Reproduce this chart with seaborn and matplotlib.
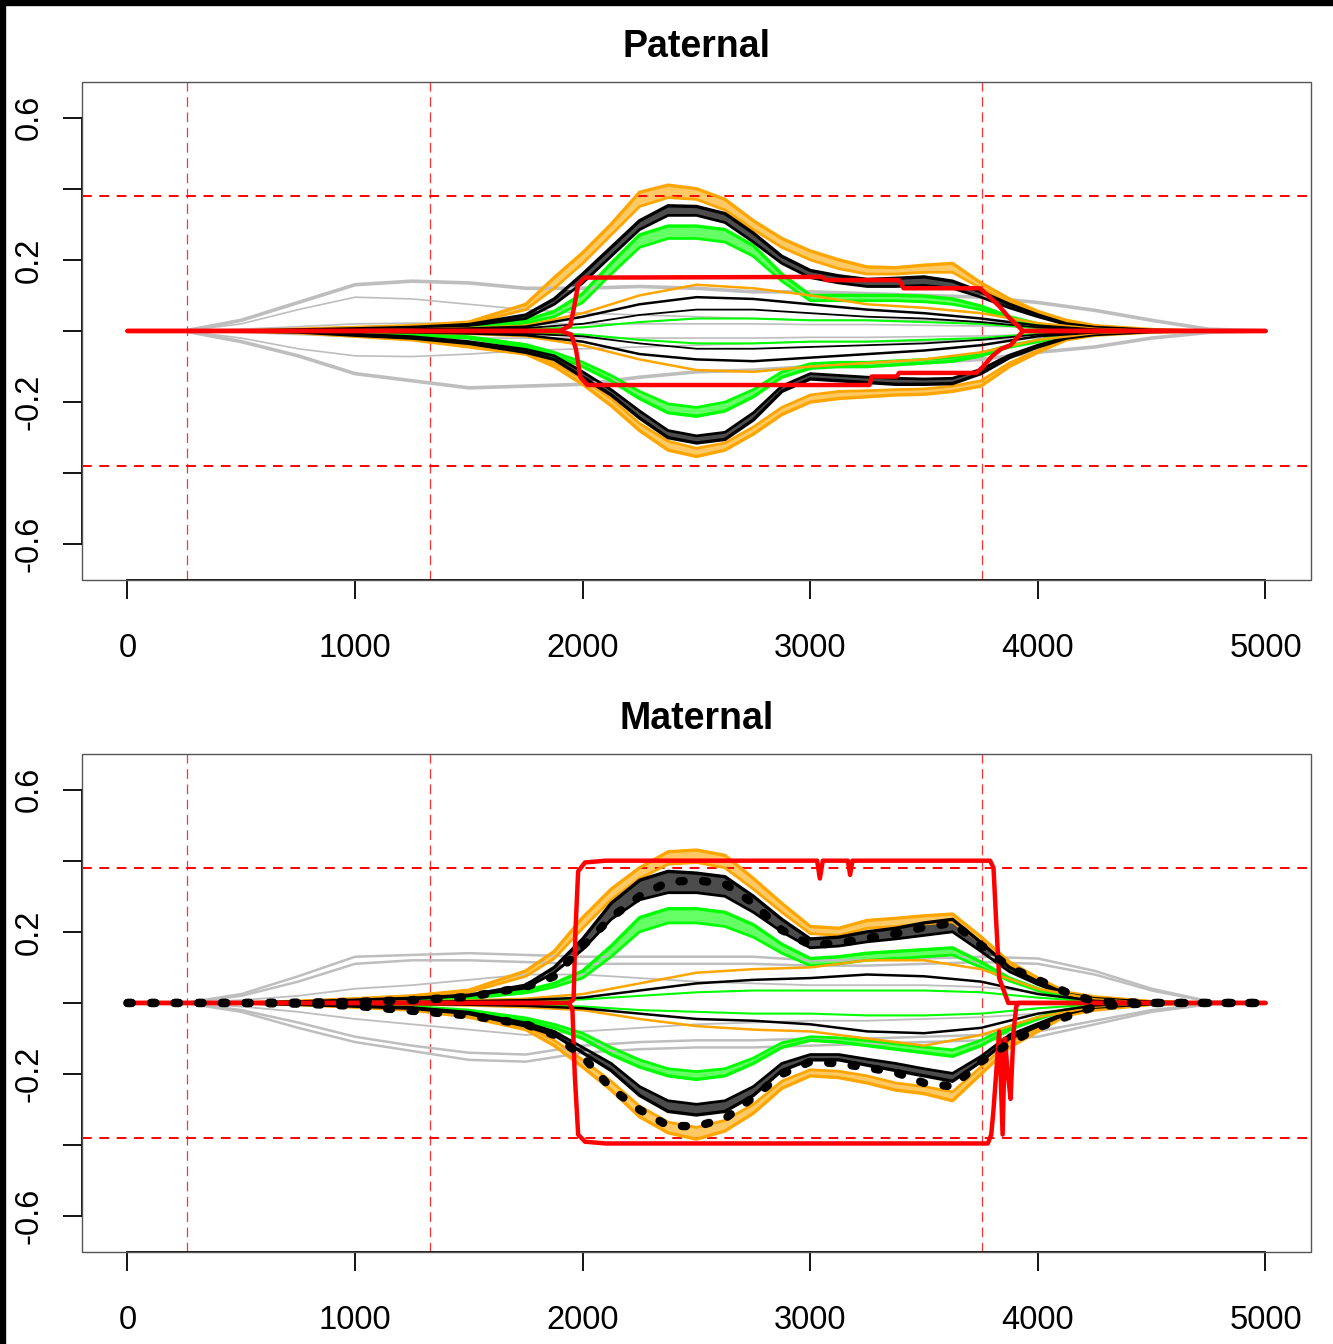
import numpy as np
import seaborn as sns
import matplotlib.pyplot as plt
from matplotlib.patches import Rectangle

sns.set_style('white')
plt.rcParams['font.family'] = ['Liberation Sans', 'DejaVu Sans']
plt.rcParams['lines.scale_dashes'] = False
for k in ('text.color', 'xtick.color', 'ytick.color', 'axes.labelcolor'):
    plt.rcParams[k] = 'black'

# coarse x grid (gray and inner curves)
X = [0, 250, 500, 750, 1000, 1250, 1500, 1750, 2000, 2250, 2500,
     2750, 3000, 3250, 3500, 3750, 4000, 4250, 4500, 4750, 5000]
# finer x grid for the outer bundles
XE = [0, 250, 500, 750, 1000, 1250, 1500,
      1750, 1875, 2000, 2125, 2250, 2375, 2500, 2625, 2750, 2875, 3000,
      3125, 3250, 3375, 3500, 3625, 3750, 3875, 4000, 4125, 4250,
      4500, 4750, 5000]

# ---- Paternal ----
pat_gray_up1 = [0, 0, 0.03, 0.08, 0.13, 0.14, 0.135, 0.12, 0.12, 0.125, 0.12, 0.11, 0.11, 0.105, 0.1, 0.095, 0.08, 0.058, 0.03, 0.005, 0]
pat_gray_up2 = [0, 0, 0.02, 0.06, 0.095, 0.09, 0.075, 0.06, 0.05, 0.045, 0.04, 0.035, 0.03, 0.03, 0.03, 0.025, 0.02, 0.01, 0.004, 0, 0]
pat_gray_up3 = [0, 0, 0.005, 0.012, 0.02, 0.022, 0.022, 0.02, 0.02, 0.02, 0.02, 0.02, 0.018, 0.018, 0.016, 0.014, 0.01, 0.005, 0.002, 0, 0]
pat_gray_lo1 = [0, 0, -0.03, -0.07, -0.12, -0.14, -0.16, -0.155, -0.15, -0.13, -0.115, -0.11, -0.1, -0.1, -0.09, -0.08, -0.06, -0.045, -0.02, -0.004, 0]
pat_gray_lo2 = [0, 0, -0.02, -0.05, -0.07, -0.072, -0.065, -0.055, -0.05, -0.045, -0.04, -0.035, -0.03, -0.03, -0.03, -0.025, -0.02, -0.01, -0.004, 0, 0]
pat_gray_lo3 = [0, 0, -0.004, -0.01, -0.016, -0.02, -0.02, -0.02, -0.02, -0.02, -0.02, -0.02, -0.018, -0.018, -0.016, -0.014, -0.01, -0.005, -0.002, 0, 0]

pat_orange_up1 = [0, 0, 0, 0.005, 0.01, 0.015, 0.025, 0.075, 0.15, 0.22, 0.3, 0.39, 0.41, 0.40, 0.37, 0.31, 0.26, 0.225, 0.2, 0.18, 0.178, 0.185, 0.19, 0.135, 0.09, 0.055, 0.03, 0.015, 0.004, 0, 0]
pat_orange_up2 = [0, 0, 0, 0.004, 0.008, 0.012, 0.02, 0.06, 0.12, 0.19, 0.27, 0.35, 0.375, 0.37, 0.34, 0.285, 0.235, 0.2, 0.175, 0.16, 0.16, 0.165, 0.165, 0.12, 0.08, 0.048, 0.025, 0.012, 0.003, 0, 0]
pat_black_up1 = [0, 0, 0, 0.003, 0.006, 0.01, 0.018, 0.045, 0.09, 0.16, 0.235, 0.31, 0.352, 0.35, 0.33, 0.275, 0.21, 0.17, 0.155, 0.145, 0.148, 0.152, 0.14, 0.11, 0.075, 0.045, 0.02, 0.01, 0.002, 0, 0]
pat_black_up2 = [0, 0, 0, 0.002, 0.005, 0.008, 0.015, 0.035, 0.075, 0.135, 0.21, 0.285, 0.325, 0.325, 0.305, 0.25, 0.19, 0.15, 0.135, 0.125, 0.125, 0.128, 0.12, 0.095, 0.065, 0.04, 0.018, 0.008, 0.001, 0, 0]
pat_green_up1 = [0, 0, 0, 0.002, 0.004, 0.007, 0.012, 0.03, 0.055, 0.105, 0.19, 0.27, 0.295, 0.295, 0.285, 0.24, 0.16, 0.1, 0.1, 0.1, 0.1, 0.098, 0.09, 0.07, 0.04, 0.02, 0.01, 0.005, 0, 0, 0]
pat_green_up2 = [0, 0, 0, 0.001, 0.003, 0.005, 0.01, 0.022, 0.04, 0.08, 0.16, 0.235, 0.26, 0.26, 0.25, 0.21, 0.14, 0.085, 0.085, 0.085, 0.085, 0.082, 0.075, 0.06, 0.035, 0.016, 0.008, 0.004, 0, 0, 0]
pat_orange_lo1 = [0, 0, 0, -0.005, -0.015, -0.025, -0.045, -0.065, -0.1, -0.15, -0.21, -0.28, -0.335, -0.353, -0.335, -0.29, -0.235, -0.2, -0.19, -0.185, -0.18, -0.178, -0.17, -0.155, -0.1, -0.06, -0.025, -0.012, -0.003, 0, 0]
pat_orange_lo2 = [0, 0, 0, -0.004, -0.012, -0.02, -0.038, -0.058, -0.09, -0.135, -0.19, -0.26, -0.31, -0.33, -0.315, -0.27, -0.215, -0.18, -0.17, -0.168, -0.165, -0.163, -0.155, -0.14, -0.09, -0.055, -0.022, -0.01, -0.002, 0, 0]
pat_black_lo1 = [0, 0, 0, -0.003, -0.012, -0.02, -0.035, -0.06, -0.08, -0.13, -0.18, -0.245, -0.3, -0.315, -0.305, -0.25, -0.17, -0.135, -0.14, -0.145, -0.15, -0.15, -0.148, -0.12, -0.075, -0.045, -0.02, -0.01, -0.002, 0, 0]
pat_black_lo2 = [0, 0, 0, -0.002, -0.009, -0.016, -0.03, -0.052, -0.07, -0.115, -0.165, -0.225, -0.28, -0.295, -0.285, -0.23, -0.155, -0.12, -0.125, -0.13, -0.133, -0.135, -0.133, -0.108, -0.068, -0.04, -0.018, -0.008, -0.001, 0, 0]
pat_green_lo1 = [0, 0, 0, -0.002, -0.006, -0.01, -0.02, -0.045, -0.07, -0.1, -0.14, -0.19, -0.23, -0.24, -0.225, -0.185, -0.13, -0.105, -0.1, -0.1, -0.095, -0.09, -0.085, -0.07, -0.045, -0.03, -0.012, -0.006, 0, 0, 0]
pat_green_lo2 = [0, 0, 0, -0.001, -0.004, -0.008, -0.016, -0.038, -0.06, -0.088, -0.125, -0.17, -0.205, -0.215, -0.2, -0.165, -0.115, -0.092, -0.088, -0.088, -0.084, -0.08, -0.075, -0.062, -0.04, -0.026, -0.01, -0.005, 0, 0, 0]

pat_orange_in_up = [0, 0, 0, 0, 0.002, 0.004, 0.008, 0.015, 0.05, 0.1, 0.13, 0.12, 0.1, 0.075, 0.065, 0.05, 0.022, 0.006, 0, 0, 0]
pat_black_in_up1 = [0, 0, 0, 0, 0.002, 0.004, 0.007, 0.012, 0.04, 0.075, 0.095, 0.09, 0.075, 0.06, 0.05, 0.035, 0.015, 0.004, 0, 0, 0]
pat_black_in_up2 = [0, 0, 0, 0, 0.001, 0.002, 0.004, 0.008, 0.02, 0.045, 0.06, 0.06, 0.05, 0.04, 0.035, 0.025, 0.01, 0.002, 0, 0, 0]
pat_green_in_up = [0, 0, 0, 0, 0.001, 0.002, 0.003, 0.005, 0.01, 0.025, 0.035, 0.035, 0.03, 0.03, 0.025, 0.02, 0.008, 0.002, 0, 0, 0]
pat_orange_in_lo = [0, 0, 0, 0, -0.002, -0.004, -0.008, -0.015, -0.04, -0.08, -0.11, -0.115, -0.1, -0.09, -0.08, -0.06, -0.025, -0.006, 0, 0, 0]
pat_black_in_lo1 = [0, 0, 0, 0, -0.002, -0.004, -0.007, -0.012, -0.03, -0.065, -0.08, -0.085, -0.075, -0.065, -0.055, -0.04, -0.015, -0.004, 0, 0, 0]
pat_black_in_lo2 = [0, 0, 0, 0, -0.001, -0.002, -0.004, -0.008, -0.015, -0.035, -0.05, -0.05, -0.045, -0.04, -0.035, -0.025, -0.01, -0.002, 0, 0, 0]
pat_green_in_lo = [0, 0, 0, 0, -0.001, -0.002, -0.003, -0.005, -0.01, -0.025, -0.035, -0.035, -0.03, -0.03, -0.025, -0.02, -0.008, -0.002, 0, 0, 0]

pat_red_up_x = [0, 1900, 1945, 1960, 1980, 2010, 3050, 3070, 3390, 3410, 3745, 3780, 3830, 3870, 3935, 5000]
pat_red_up_y = [0, 0, 0.015, 0.06, 0.13, 0.15, 0.152, 0.143, 0.143, 0.12, 0.12, 0.1, 0.07, 0.04, 0, 0]
pat_red_lo_x = [0, 1900, 1950, 1970, 1990, 2020, 3260, 3270, 3380, 3390, 3730, 3760, 3800, 3840, 3880, 3935, 5000]
pat_red_lo_y = [0, 0, -0.01, -0.05, -0.13, -0.152, -0.152, -0.128, -0.128, -0.118, -0.118, -0.1, -0.07, -0.05, -0.04, 0, 0]

# ---- Maternal ----
mat_gray_up1 = [0, 0, 0.025, 0.075, 0.13, 0.135, 0.14, 0.135, 0.13, 0.13, 0.13, 0.13, 0.12, 0.12, 0.125, 0.13, 0.125, 0.09, 0.04, 0.005, 0]
mat_gray_up2 = [0, 0, 0.02, 0.06, 0.11, 0.12, 0.12, 0.115, 0.11, 0.11, 0.11, 0.11, 0.105, 0.105, 0.11, 0.115, 0.11, 0.08, 0.035, 0.004, 0]
mat_gray_up3 = [0, 0, 0.008, 0.02, 0.04, 0.05, 0.065, 0.08, 0.08, 0.07, 0.06, 0.055, 0.05, 0.05, 0.05, 0.045, 0.03, 0.015, 0.005, 0, 0]
mat_gray_lo1 = [0, 0, -0.025, -0.07, -0.11, -0.135, -0.16, -0.165, -0.14, -0.13, -0.125, -0.125, -0.12, -0.115, -0.11, -0.105, -0.095, -0.06, -0.025, -0.004, 0]
mat_gray_lo2 = [0, 0, -0.02, -0.055, -0.095, -0.12, -0.14, -0.145, -0.12, -0.11, -0.105, -0.105, -0.1, -0.1, -0.095, -0.09, -0.08, -0.05, -0.02, -0.003, 0]
mat_gray_lo3 = [0, 0, -0.01, -0.025, -0.045, -0.06, -0.075, -0.09, -0.08, -0.07, -0.06, -0.055, -0.05, -0.05, -0.045, -0.04, -0.03, -0.015, -0.005, 0, 0]

mat_orange_up1 = [0, 0, 0, 0.005, 0.012, 0.02, 0.036, 0.09, 0.145, 0.24, 0.32, 0.38, 0.425, 0.43, 0.415, 0.35, 0.28, 0.215, 0.21, 0.232, 0.238, 0.245, 0.25, 0.186, 0.115, 0.07, 0.03, 0.017, 0.004, 0, 0]
mat_orange_up2 = [0, 0, 0, 0.004, 0.01, 0.016, 0.03, 0.075, 0.125, 0.21, 0.29, 0.35, 0.39, 0.395, 0.38, 0.32, 0.255, 0.195, 0.19, 0.21, 0.215, 0.222, 0.228, 0.17, 0.105, 0.062, 0.027, 0.014, 0.003, 0, 0]
mat_black_up1 = [0, 0, 0, 0.003, 0.008, 0.013, 0.022, 0.05, 0.1, 0.18, 0.28, 0.345, 0.37, 0.365, 0.355, 0.3, 0.235, 0.18, 0.185, 0.2, 0.21, 0.225, 0.235, 0.17, 0.1, 0.06, 0.025, 0.012, 0.002, 0, 0]
mat_black_up2 = [0, 0, 0, 0.003, 0.007, 0.012, 0.02, 0.042, 0.085, 0.15, 0.235, 0.29, 0.31, 0.31, 0.3, 0.255, 0.2, 0.155, 0.16, 0.172, 0.18, 0.19, 0.2, 0.145, 0.088, 0.052, 0.022, 0.01, 0.002, 0, 0]
mat_green_up1 = [0, 0, 0, 0.002, 0.005, 0.009, 0.016, 0.035, 0.055, 0.09, 0.16, 0.24, 0.265, 0.265, 0.255, 0.22, 0.165, 0.125, 0.13, 0.14, 0.145, 0.15, 0.155, 0.115, 0.07, 0.04, 0.018, 0.008, 0, 0, 0]
mat_green_up2 = [0, 0, 0, 0.001, 0.004, 0.007, 0.013, 0.028, 0.045, 0.07, 0.13, 0.2, 0.225, 0.225, 0.215, 0.185, 0.14, 0.105, 0.11, 0.12, 0.125, 0.13, 0.135, 0.1, 0.062, 0.035, 0.015, 0.006, 0, 0, 0]
mat_orange_lo1 = [0, 0, 0, -0.005, -0.012, -0.02, -0.04, -0.075, -0.12, -0.18, -0.245, -0.32, -0.365, -0.383, -0.36, -0.31, -0.24, -0.205, -0.21, -0.225, -0.245, -0.255, -0.275, -0.2, -0.125, -0.08, -0.035, -0.02, -0.004, 0, 0]
mat_orange_lo2 = [0, 0, 0, -0.004, -0.01, -0.016, -0.034, -0.065, -0.105, -0.16, -0.22, -0.29, -0.335, -0.35, -0.33, -0.285, -0.22, -0.188, -0.192, -0.205, -0.225, -0.235, -0.25, -0.18, -0.11, -0.07, -0.03, -0.017, -0.003, 0, 0]
mat_black_lo1 = [0, 0, 0, -0.004, -0.009, -0.015, -0.03, -0.065, -0.09, -0.14, -0.19, -0.26, -0.305, -0.315, -0.305, -0.26, -0.19, -0.16, -0.16, -0.175, -0.19, -0.205, -0.22, -0.165, -0.1, -0.065, -0.03, -0.012, -0.002, 0, 0]
mat_black_lo2 = [0, 0, 0, -0.003, -0.008, -0.013, -0.026, -0.056, -0.08, -0.125, -0.17, -0.235, -0.275, -0.285, -0.275, -0.235, -0.17, -0.145, -0.145, -0.158, -0.17, -0.185, -0.198, -0.15, -0.09, -0.058, -0.027, -0.01, -0.002, 0, 0]
mat_green_lo1 = [0, 0, 0, -0.003, -0.007, -0.012, -0.025, -0.05, -0.07, -0.1, -0.145, -0.18, -0.205, -0.215, -0.205, -0.17, -0.125, -0.105, -0.11, -0.12, -0.13, -0.14, -0.15, -0.12, -0.075, -0.045, -0.02, -0.008, 0, 0, 0]
mat_green_lo2 = [0, 0, 0, -0.002, -0.006, -0.01, -0.02, -0.042, -0.06, -0.085, -0.125, -0.16, -0.185, -0.193, -0.185, -0.155, -0.112, -0.095, -0.098, -0.106, -0.115, -0.124, -0.132, -0.105, -0.066, -0.04, -0.018, -0.007, 0, 0, 0]
mat_dot_up = [0, 0, 0, 0.001, 0.003, 0.008, 0.017, 0.045, 0.075, 0.16, 0.24, 0.3, 0.34, 0.345, 0.335, 0.28, 0.205, 0.163, 0.168, 0.182, 0.195, 0.213, 0.225, 0.163, 0.1, 0.065, 0.03, 0.004, 0, 0, 0]
mat_dot_lo = [0, 0, 0, -0.002, -0.008, -0.022, -0.035, -0.06, -0.09, -0.15, -0.24, -0.3, -0.345, -0.347, -0.325, -0.265, -0.2, -0.165, -0.17, -0.182, -0.195, -0.225, -0.235, -0.165, -0.113, -0.07, -0.039, -0.01, 0, 0, 0]

mat_orange_in_up = [0, 0, 0, 0, 0.002, 0.004, 0.007, 0.012, 0.025, 0.055, 0.085, 0.095, 0.1, 0.12, 0.12, 0.095, 0.04, 0.01, 0, 0, 0]
mat_black_in_up1 = [0, 0, 0, 0, 0.001, 0.003, 0.005, 0.008, 0.015, 0.035, 0.055, 0.065, 0.07, 0.08, 0.075, 0.06, 0.025, 0.006, 0, 0, 0]
mat_green_in_up = [0, 0, 0, 0, 0.001, 0.002, 0.003, 0.005, 0.01, 0.02, 0.03, 0.035, 0.035, 0.035, 0.035, 0.03, 0.015, 0.004, 0, 0, 0]
mat_orange_in_lo = [0, 0, 0, 0, -0.002, -0.004, -0.007, -0.012, -0.02, -0.045, -0.065, -0.075, -0.08, -0.1, -0.12, -0.09, -0.04, -0.01, 0, 0, 0]
mat_black_in_lo1 = [0, 0, 0, 0, -0.001, -0.003, -0.005, -0.008, -0.015, -0.03, -0.045, -0.05, -0.06, -0.08, -0.085, -0.07, -0.03, -0.007, 0, 0, 0]
mat_green_in_lo = [0, 0, 0, 0, -0.001, -0.002, -0.003, -0.005, -0.01, -0.02, -0.025, -0.03, -0.03, -0.035, -0.035, -0.03, -0.015, -0.004, 0, 0, 0]

mat_red_up_x = [0, 1940, 1960, 1968, 1980, 2010, 2100, 3030, 3042, 3055, 3165, 3175, 3185, 3790, 3805, 3815, 3830, 3870, 5000]
mat_red_up_y = [0, 0, 0.01, 0.2, 0.37, 0.395, 0.4, 0.4, 0.35, 0.4, 0.4, 0.36, 0.4, 0.4, 0.38, 0.25, 0.07, 0, 0]
mat_red_lo_x = [0, 1940, 1955, 1965, 1980, 2010, 2100, 3780, 3795, 3805, 3830, 3845, 3855, 3868, 3880, 3893, 3905, 3915, 5000]
mat_red_lo_y = [0, 0, -0.02, -0.2, -0.37, -0.39, -0.395, -0.395, -0.37, -0.3, -0.08, -0.37, -0.1, -0.2, -0.27, -0.08, -0.01, 0, 0]

thresh = 0.38
vlines = [263, 1330, 3753]
xticks = [0, 1000, 2000, 3000, 4000, 5000]
yticks = [-0.6, -0.4, -0.2, 0, 0.2, 0.4, 0.6]
ylabels = ['-0.6', '', '-0.2', '', '0.2', '', '0.6']

GRAY, GREEN, ORANGE, BLACK, RED = '#BEBEBE', '#00FF00', '#FFA500', 'black', '#FF0000'

# (edge curve a, edge curve b, colour): each pair is a bundle of many traces
pat_bundles = [
    (pat_orange_up1, pat_orange_up2, ORANGE), (pat_orange_lo1, pat_orange_lo2, ORANGE),
    (pat_green_up1, pat_green_up2, GREEN), (pat_green_lo1, pat_green_lo2, GREEN),
    (pat_black_up1, pat_black_up2, BLACK), (pat_black_lo1, pat_black_lo2, BLACK),
]
pat_lines = [
    (pat_gray_up1, GRAY, 2.6), (pat_gray_up2, GRAY, 1.2), (pat_gray_up3, GRAY, 1.2),
    (pat_gray_lo1, GRAY, 2.6), (pat_gray_lo2, GRAY, 1.2), (pat_gray_lo3, GRAY, 1.2),
    (pat_orange_in_up, ORANGE, 1.8), (pat_orange_in_lo, ORANGE, 1.8),
    (pat_green_in_up, GREEN, 1.5), (pat_green_in_lo, GREEN, 1.5),
    (pat_black_in_up1, BLACK, 1.8), (pat_black_in_up2, BLACK, 1.3),
    (pat_black_in_lo1, BLACK, 1.8), (pat_black_in_lo2, BLACK, 1.3),
]
mat_bundles = [
    (mat_orange_up1, mat_orange_up2, ORANGE), (mat_orange_lo1, mat_orange_lo2, ORANGE),
    (mat_green_up1, mat_green_up2, GREEN), (mat_green_lo1, mat_green_lo2, GREEN),
    (mat_black_up1, mat_black_up2, BLACK), (mat_black_lo1, mat_black_lo2, BLACK),
]
mat_lines = [
    (mat_gray_up1, GRAY, 1.8), (mat_gray_up2, GRAY, 1.8), (mat_gray_up3, GRAY, 1.3),
    (mat_gray_lo1, GRAY, 1.8), (mat_gray_lo2, GRAY, 1.8), (mat_gray_lo3, GRAY, 1.3),
    (mat_orange_in_up, ORANGE, 1.8), (mat_orange_in_lo, ORANGE, 1.8),
    (mat_green_in_up, GREEN, 1.5), (mat_green_in_lo, GREEN, 1.5),
    (mat_black_in_up1, BLACK, 1.8), (mat_black_in_lo1, BLACK, 1.8),
]

fig = plt.figure(figsize=(13.33, 13.44), dpi=100)
ax1 = fig.add_axes([0.0615, 0.5685, 0.922, 0.3705])
ax2 = fig.add_axes([0.0615, 0.0685, 0.922, 0.3705])


def draw_panel(ax, lines, bundles, reds, dots, title):
    for vals, col, lw in lines[:6]:
        sns.lineplot(x=X, y=vals, color=col, linewidth=lw, ax=ax,
                     estimator=None, sort=False)
    for a, b, col in bundles:
        alpha = 0.7 if col == BLACK else 0.6
        ax.fill_between(XE, a, b, color=col, alpha=alpha, lw=0)
        for vals, lw in ((a, 2.4), (b, 2.0)):
            sns.lineplot(x=XE, y=vals, color=col, linewidth=lw, ax=ax,
                         estimator=None, sort=False)
    for vals, col, lw in lines[6:]:
        sns.lineplot(x=X, y=vals, color=col, linewidth=lw, ax=ax,
                     estimator=None, sort=False)
    for rx, ry in reds:
        sns.lineplot(x=rx, y=ry, color=RED, linewidth=3.2, ax=ax,
                     estimator=None, sort=False)
    for vals in dots:
        sns.lineplot(x=XE, y=vals, color=BLACK, linewidth=6, ax=ax,
                     estimator=None, sort=False)
        ln = ax.lines[-1]
        ln.set_linestyle((0, (3, 14)))
        ln.set_dash_capstyle('round')
    for s in (1, -1):
        ax.axhline(s * thresh, color=RED, lw=1.4, ls=(0, (7, 5.5)), zorder=1)
    for v in vlines:
        ax.axvline(v, color=RED, lw=0.9, ls=(0, (7, 4)), alpha=0.8, zorder=1)

    ax.set_xlim(-200, 5200)
    ax.set_ylim(-0.7, 0.7)
    ax.set_xticks(xticks)
    ax.set_xticklabels([str(t) for t in xticks])
    ax.set_yticks(yticks)
    ax.set_yticklabels(ylabels, rotation=90, va='center')
    ax.tick_params(axis='both', direction='out', length=14, width=1.3,
                   color='black', labelcolor='black', labelsize=23.5,
                   bottom=True, left=True)
    ax.tick_params(axis='x', pad=24)
    ax.tick_params(axis='y', pad=13)
    for side in ('top', 'right'):
        ax.spines[side].set_visible(False)
    ax.spines['bottom'].set_bounds(0, 5000)
    ax.spines['left'].set_bounds(-0.6, 0.6)
    for side in ('bottom', 'left'):
        ax.spines[side].set_color('black')
        ax.spines[side].set_linewidth(1.3)
    ax.add_patch(Rectangle((0, 0), 1, 1, transform=ax.transAxes, fill=False,
                           edgecolor='#555555', lw=1.0, zorder=10, clip_on=False))
    ax.set_xlabel('')
    ax.set_ylabel('')
    ax.set_title(title, fontsize=27, fontweight='bold', pad=18, color='black')


draw_panel(ax1, pat_lines, pat_bundles,
           [(pat_red_up_x, pat_red_up_y), (pat_red_lo_x, pat_red_lo_y)],
           [], 'Paternal')
draw_panel(ax2, mat_lines, mat_bundles,
           [(mat_red_up_x, mat_red_up_y), (mat_red_lo_x, mat_red_lo_y)],
           [mat_dot_up, mat_dot_lo], 'Maternal')

# dark frame along the top and left edge of the original image
fig.patches.append(Rectangle((0, 1 - 5 / 1344), 1, 5 / 1344, transform=fig.transFigure,
                             color='black', zorder=20))
fig.patches.append(Rectangle((0, 0), 5 / 1333, 1, transform=fig.transFigure,
                             color='black', zorder=20))

fig.savefig('out.png', dpi=100, facecolor='white')
